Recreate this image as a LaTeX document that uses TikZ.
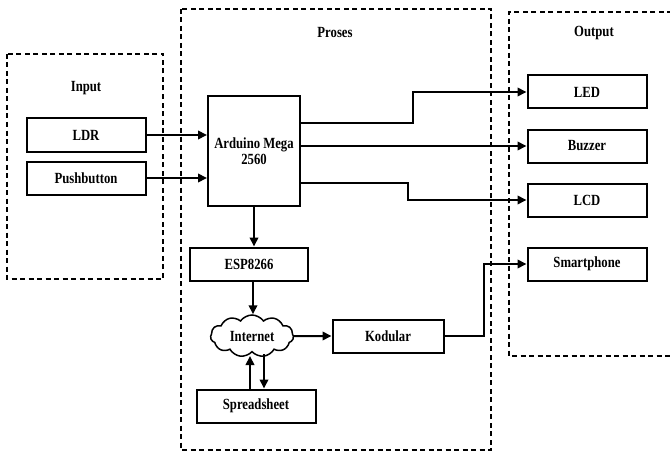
\documentclass[tikz,border=0pt]{standalone}
\usepackage{fontspec}
\setmainfont{Liberation Serif}[FakeStretch=0.82]
\usetikzlibrary{shapes.symbols,arrows.meta}
\begin{document}
\begin{tikzpicture}[x=1pt,y=-1pt,
  font=\fontsize{15.5}{16}\selectfont\bfseries,
  blk/.style={draw,line width=2pt,minimum width=119pt,minimum height=33pt,inner sep=0pt,align=center},
  grp/.style={draw,line width=2pt,dash pattern=on 5pt off 3.5pt},
  arr/.style={line width=2pt,-{Triangle[length=9pt,width=8.5pt]}}]
\useasboundingbox (0,0) rectangle (670,452);
% group boxes
\draw[grp] (7,54) rectangle (163,279);
\draw[grp] (181,9) rectangle (491,450);
\draw[grp] (672,12) -- (509,12) -- (509,356) -- (672,356);
\node (tin) at (86,88) {Input};
\node (tpr) at (335,33) {Proses};
\node (tout) at (594,33) {Output};
% nodes
\node[blk] (ldr) at (86,135) {LDR};
\node[blk] (pb) at (86,178) {Pushbutton};
\node[blk,minimum width=92pt,minimum height=109pt] (ard) at (254,151) {Arduino Mega\\2560};
\node[blk,minimum width=118pt] (esp) at (249,264) {ESP8266};
\node[cloud,draw,line width=1.5pt,cloud puffs=11,cloud puff arc=110,aspect=2,minimum width=83pt,minimum height=42pt,inner sep=0pt] (inet) at (252,336) {Internet};
\node[blk,minimum width=111pt] (kod) at (388,336) {Kodular};
\node[blk] (spr) at (256,406) {Spreadsheet};
\node[blk] (led) at (587,92) {LED};
\node[blk] (buz) at (587,146) {Buzzer};
\node[blk] (lcd) at (587,200) {LCD};
\node[blk] (sp) at (587,264) {Smartphone};
% connectors
\draw[arr] (ldr.east) -- (ldr.east -| ard.west);
\draw[arr] (pb.east) -- (pb.east -| ard.west);
\draw[arr] (ard.east |- 0,123) -- (413,123) -- (413,92) -- (led.west);
\draw[arr] (ard.east |- buz.west) -- (buz.west);
\draw[arr] (ard.east |- 0,183) -- (408,183) -- (408,200) -- (lcd.west);
\draw[arr] (ard.south) -- (ard.south |- esp.north);
\draw[arr] (esp.south -| 253,0) -- (inet.north -| 253,0);
\draw[arr] (inet.east) -- (kod.west);
\draw[arr] (kod.east) -| (484,264) -- (sp.west);
\draw[arr] (spr.north -| 250,0) -- (250,356);
\draw[arr] (264,354) -- (spr.north -| 264,0);
\end{tikzpicture}
\end{document}
